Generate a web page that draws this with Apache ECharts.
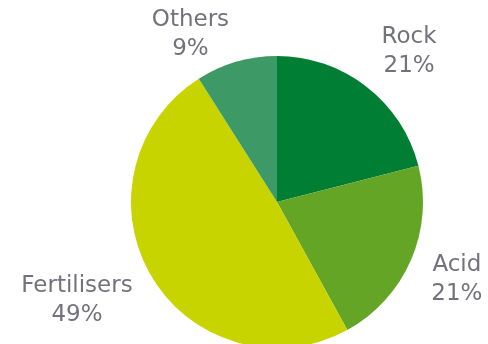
<!DOCTYPE html>
<html>
<head>
<meta charset="utf-8">
<script src="https://cdn.jsdelivr.net/npm/echarts@6/dist/echarts.min.js"></script>
<style>
  html, body { margin: 0; padding: 0; background: #fff; }
  #chart { width: 488px; height: 344px; }
</style>
</head>
<body>
<div id="chart"></div>
<script>
// Share of use by sector
const categories = ['Rock', 'Acid', 'Fertilisers', 'Others'];
const shares = [21, 21, 49, 9];
const sliceColors = ['#007f34', '#64a526', '#c8d400', '#3d9a67'];

// label leader distances (radial, horizontal) per slice
const labelOffsets = [[45, 15], [50, 0], [48, 33], [28, 38]];

const chart = echarts.init(document.getElementById('chart'));
chart.setOption({
  animation: false,
  textStyle: { fontFamily: 'DejaVu Sans' },
  series: [{
    type: 'pie',
    center: [277, 202],
    radius: 146,
    startAngle: 90,
    clockwise: true,
    avoidLabelOverlap: false,
    percentPrecision: 0,
    label: {
      show: true,
      position: 'outside',
      formatter: '{b}\n{d}%',
      color: '#72727e',
      fontSize: 23,
      lineHeight: 29,
      distanceToLabelLine: 0
    },
    labelLayout: { align: 'center' },
    emphasis: { disabled: true },
    data: categories.map((name, i) => ({
      name,
      value: shares[i],
      itemStyle: { color: sliceColors[i] },
      labelLine: { show: false, length: labelOffsets[i][0], length2: labelOffsets[i][1] }
    }))
  }]
});
</script>
</body>
</html>
